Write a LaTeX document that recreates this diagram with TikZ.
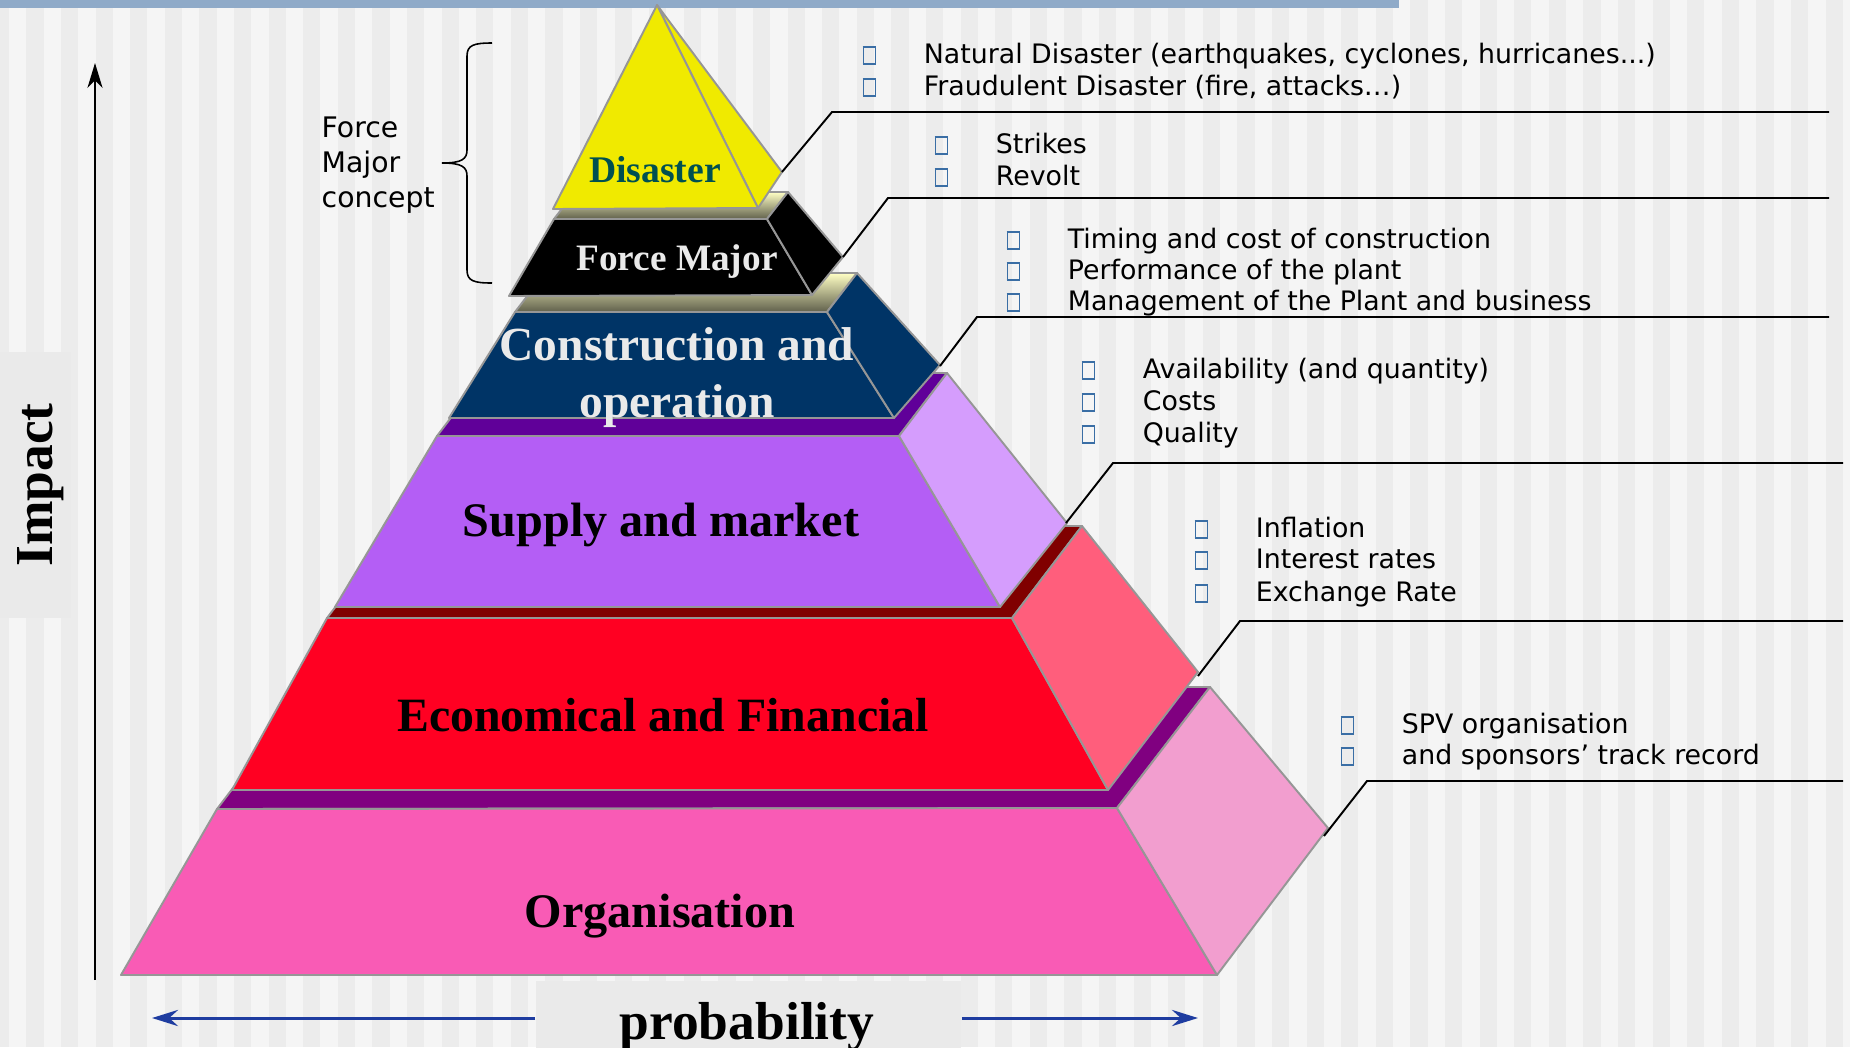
\documentclass[tikz,border=0pt]{standalone}
\usepackage{fontspec}
\setmainfont{Liberation Serif}
\newfontfamily\itemfont{DejaVu Sans}
\usetikzlibrary{arrows.meta}

\definecolor{stripelight}{RGB}{245,245,245}
\definecolor{stripedark}{RGB}{236,236,236}
\definecolor{bandblue}{RGB}{143,170,200}
\definecolor{edgegray}{RGB}{150,150,150}
\definecolor{labelbox}{RGB}{234,234,234}
\definecolor{bulletblue}{RGB}{58,110,165}
\definecolor{arrowblue}{RGB}{30,60,160}
\definecolor{disyellow}{RGB}{240,234,0}
\definecolor{disteal}{RGB}{0,80,80}
\definecolor{slablight}{RGB}{255,255,196}
\definecolor{slabdark}{RGB}{96,96,76}
\definecolor{conblue}{RGB}{0,52,102}
\definecolor{lighttext}{RGB}{234,234,234}
\definecolor{supfront}{RGB}{180,94,245}
\definecolor{supside}{RGB}{213,157,253}
\definecolor{supslab}{RGB}{96,0,153}
\definecolor{ecofront}{RGB}{255,0,34}
\definecolor{ecoside}{RGB}{255,94,124}
\definecolor{ecoslab}{RGB}{128,0,0}
\definecolor{orgfront}{RGB}{249,91,181}
\definecolor{orgside}{RGB}{242,158,207}
\definecolor{orgslab}{RGB}{128,0,128}

\newcommand{\bx}{{\color{bulletblue}\setlength\fboxrule{0.45pt}\setlength\fboxsep{0pt}\fbox{\rule{0pt}{4.4pt}\rule{3.0pt}{0pt}}}\hspace{13.5pt}}

\begin{document}
\begin{tikzpicture}[x=0.01cm,y=-0.01cm,
  face/.style={draw=edgegray,line width=0.55pt,line join=round},
  slab/.style={face,top color=slablight,bottom color=slabdark},
  tierlabel/.style={anchor=base,inner sep=0pt,font=\bfseries\fontsize{#1}{#1}\selectfont},
  item/.style={anchor=base west,inner sep=0pt,font=\itemfont\fontsize{7.62}{9}\selectfont},
  concept/.style={anchor=base west,inner sep=0pt,font=\itemfont\fontsize{8.05}{10}\selectfont},
  axislabel/.style={anchor=base,inner sep=0pt,font=\bfseries\fontsize{15.2}{15.2}\selectfont},
  callout/.style={line width=0.55pt},
  axisline/.style={line width=0.57pt,-{Stealth[length=7.1pt,width=4.3pt,inset=2.2pt]}},
  probarrow/.style={arrowblue,line width=0.85pt,-{Stealth[length=7.4pt,width=4.6pt,inset=2.5pt]}}]
\useasboundingbox (0,0) rectangle (1850,1047);

% striped backdrop
\fill[stripedark] (0,0) rectangle (1850,1047);
\foreach \i in {0,...,53}
  \fill[stripelight] ({9+34.6*\i},0) rectangle ++(17.3,1047);
\fill[bandblue] (0,0) rectangle (1399,8);

% organisation
\path[face,fill=orgslab] (217,809) -- (1117,808) -- (1210,687) -- (310,687) -- cycle;
\path[face,fill=orgfront] (121,975) -- (217,809) -- (1117,808) -- (1217,975) -- cycle;
\path[face,fill=orgside] (1117,808) -- (1210,687) -- (1328,828) -- (1217,975) -- cycle;

% economical and financial
\path[face,fill=ecoslab] (327,618) -- (1012,618) -- (1082,526) -- (397,526) -- cycle;
\path[face,fill=ecofront] (232,790) -- (327,618) -- (1012,618) -- (1108,790) -- cycle;
\path[face,fill=ecoside] (1012,618) -- (1082,526) -- (1198,672) -- (1108,790) -- cycle;

% supply and market
\path[face,fill=supslab] (437,436) -- (899,436) -- (947,373) -- (485,373) -- cycle;
\path[face,fill=supfront] (335,607) -- (437,436) -- (899,436) -- (1000,607) -- cycle;
\path[face,fill=supside] (899,436) -- (947,373) -- (1067,523) -- (1000,607) -- cycle;

% construction and operation
\path[slab] (515,312) -- (827,312) -- (857,273) -- (545,273) -- cycle;
\path[face,fill=conblue] (449,418) -- (515,312) -- (827,312) -- (894,418) -- cycle;
\path[face,fill=conblue] (827,312) -- (857,273) -- (940,365) -- (894,418) -- cycle;

% force major
\path[slab] (554,219) -- (767,219) -- (788,192) -- (575,192) -- cycle;
\path[face,fill=black] (509,296) -- (554,219) -- (767,219) -- (812,295) -- cycle;
\path[face,fill=black] (767,219) -- (788,192) -- (843,257) -- (812,295) -- cycle;

% disaster
\path[face,fill=disyellow] (657,5) -- (782,172) -- (758,208) -- cycle;
\path[face,fill=disyellow] (553,209) -- (657,5) -- (758,208) -- cycle;

\node[tierlabel=10.7,text=disteal] (disaster) at (655,182) {Disaster};
\node[tierlabel=10.6,text=lighttext] (forcemajor) at (677,270) {Force Major};
\node[tierlabel=13.5,text=lighttext] (constr1) at (677,360) {Construction and};
\node[tierlabel=13.5,text=lighttext] (constr2) at (677,417) {operation};
\node[tierlabel=13.7] (supply) at (661,536) {Supply and market};
\node[tierlabel=13.6] (econ) at (663,731) {Economical and Financial};
\node[tierlabel=13.7] (org) at (660,927) {Organisation};

% risk lists
\node[item] (natural) at (862,63) {\bx Natural Disaster (earthquakes, cyclones, hurricanes...)};
\node[item] (fraud) at (862,95) {\bx Fraudulent Disaster (fire, attacks…)};
\node[item] (strikes) at (934,153) {\bx Strikes};
\node[item] (revolt) at (934,185) {\bx Revolt};
\node[item] (timing) at (1006,248) {\bx Timing and cost of construction};
\node[item] (perf) at (1006,279) {\bx Performance of the plant};
\node[item] (mgmt) at (1006,310) {\bx Management of the Plant and business};
\node[item] (avail) at (1081,378) {\bx Availability (and quantity)};
\node[item] (costs) at (1081,410) {\bx Costs};
\node[item] (quality) at (1081,442) {\bx Quality};
\node[item] (infl) at (1194,537) {\bx Inflation};
\node[item] (rates) at (1194,568) {\bx Interest rates};
\node[item] (exch) at (1194,601) {\bx Exchange Rate};
\node[item] (spv) at (1340,733) {\bx SPV organisation};
\node[item] (track) at (1340,764) {\bx and sponsors’ track record};

% callout lines
\coordinate (endA) at (1829,0);
\coordinate (endB) at (1843,0);
\coordinate (disC) at (782,172);  \coordinate (disK) at (832,112);
\coordinate (fmC) at (843,257);   \coordinate (fmK) at (888,198);
\coordinate (conC) at (940,366);  \coordinate (conK) at (977,317);
\coordinate (supC) at (1066,523); \coordinate (supK) at (1113,463);
\coordinate (ecoC) at (1198,676); \coordinate (ecoK) at (1240,621);
\coordinate (orgC) at (1324,836); \coordinate (orgK) at (1367,781);
\draw[callout] (disC) -- (disK) -- (disK -| endA);
\draw[callout] (fmC) -- (fmK) -- (fmK -| endA);
\draw[callout] (conC) -- (conK) -- (conK -| endA);
\draw[callout] (supC) -- (supK) -- (supK -| endB);
\draw[callout] (ecoC) -- (ecoK) -- (ecoK -| endB);
\draw[callout] (orgC) -- (orgK) -- (orgK -| endB);

% force major brace
\node[concept] (fmc1) at (321,137) {Force};
\node[concept] (fmc2) at (321,172) {Major};
\node[concept] (fmc3) at (321,207) {concept};
\draw[line width=0.45pt] (492,43) .. controls (474,43) and (467,45) .. (467,56) -- (467,150)
  .. controls (467,159) and (462,163) .. (442,163)
  .. controls (462,163) and (467,167) .. (467,176) -- (467,270)
  .. controls (467,281) and (474,283) .. (492,283);

% impact axis
\node[fill=labelbox,inner sep=0pt,minimum width=0.71cm,minimum height=2.66cm] (impbox) at (35.5,485) {};
\node[axislabel,rotate=90] (impact) at (53,485) {Impact};
\coordinate (ybot) at (95,980);
\coordinate (ytop) at (95,63);
\draw[axisline] (ybot) -- (ytop);

% probability axis
\node[fill=labelbox,inner sep=0pt,minimum width=4.25cm,minimum height=0.74cm] (probbox) at (748.5,1018) {};
\node[axislabel] (prob) at (747,1039) {probability};
\coordinate (tipL) at (152,1018);
\coordinate (tipR) at (1198,1018);
\draw[probarrow] (probbox.west) -- (tipL);
\draw[probarrow] (probbox.east) -- (tipR);
\end{tikzpicture}
\end{document}
